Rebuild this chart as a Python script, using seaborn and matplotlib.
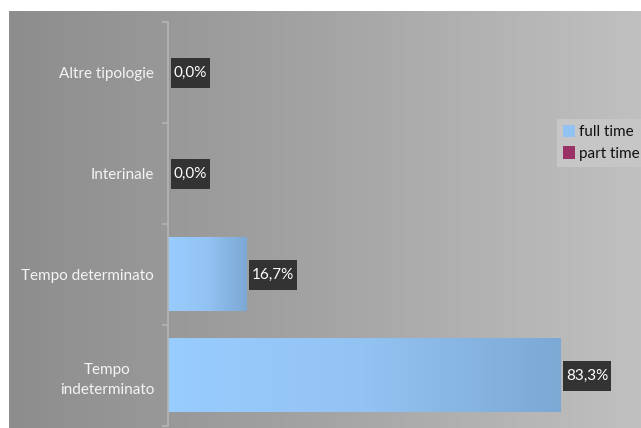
import numpy as np
import pandas as pd
import matplotlib
matplotlib.use("Agg")
import matplotlib.pyplot as plt
from matplotlib.path import Path
from matplotlib.colors import LinearSegmentedColormap
from matplotlib.patches import Patch
import seaborn as sns

# --- data -------------------------------------------------------------
categorie = ["Altre tipologie", "Interinale", "Tempo determinato", "Tempo\nindeterminato"]
full_time = [0.0, 0.0, 16.7, 83.3]
part_time = [0.0, 0.0, 0.0, 0.0]
serie = ["full time", "part time"]

df = pd.DataFrame({"categoria": categorie, "full time": full_time, "part time": part_time})
long = df.melt(id_vars="categoria", var_name="serie", value_name="valore")

sns.set_theme(style="white")
plt.rcParams["font.family"] = ["Lato", "DejaVu Sans"]
FS = 11

W, H, DPI = 641, 428, 100
fig = plt.figure(figsize=(W / DPI, H / DPI), dpi=DPI, facecolor="white")

# grey gradient chart area
bg = fig.add_axes([9 / W, 0, 1 - 9 / W, 1 - 11 / H], zorder=0)
grad = np.linspace(0, 1, 256).reshape(1, -1)
bg_cmap = LinearSegmentedColormap.from_list("bg", ["#8d8d8d", "#a4a4a4", "#c0c0c0"])
bg.imshow(grad, aspect="auto", cmap=bg_cmap, extent=[0, 1, 0, 1])
bg.set_axis_off()

ax = fig.add_axes([168 / W, 2 / H, (639 - 168) / W, (426 - 22) / H], zorder=1)
ax.set_facecolor("none")

sns.barplot(data=long, y="categoria", x="valore", hue="serie", order=categorie,
            hue_order=serie, dodge=False, width=0.73, orient="h",
            palette=["#99ccff", "#993366"], ax=ax, legend=False, saturation=1,
            linewidth=0, edgecolor="none")

# gradient fill for the full-time bars
bar_cmap = LinearSegmentedColormap.from_list("bar", ["#99ccff", "#93c3f3", "#7ca8d4"])
for bar in ax.containers[0]:
    w = bar.get_width()
    if w <= 0:
        continue
    x0, y0 = bar.get_x(), bar.get_y()
    h = bar.get_height()
    bar.set_facecolor("none")
    ax.imshow(grad, aspect="auto", cmap=bar_cmap,
              extent=[x0, x0 + w, y0 + h, y0], zorder=2)
ax.set_xlim(0, 100)
ax.set_ylim(len(categorie) - 0.5, -0.5)
ax.set_aspect("auto")

# axes styling
for s in ["top", "right", "bottom"]:
    ax.spines[s].set_visible(False)
ax.spines["left"].set_color("#b4b4b4")
ax.spines["left"].set_linewidth(1.2)
ax.set_xticks([])
ax.set_xlabel("")
ax.set_ylabel("")
ax.set_yticks(range(len(categorie)))
ax.set_yticklabels(categorie, color="#f4f4f4", fontsize=FS, ha="right",
                   multialignment="center", linespacing=1.55)
ax.set_yticks(np.arange(-0.5, len(categorie)), minor=True)
ax.tick_params(axis="y", which="major", length=0, pad=10)
ax.tick_params(axis="y", which="minor", length=4, width=1.2, color="#b4b4b4", left=True)


def label_box(x0, y0, width, height, mutation_size):
    padx, pady = 3.0, 8.0
    x0, x1 = x0 - padx, x0 + width + padx
    y0, y1 = y0 - pady, y0 + height + pady
    return Path([(x0, y0), (x1, y0), (x1, y1), (x0, y1), (x0, y0)], closed=True)


for i, v in enumerate(full_time):
    testo = f"{v:.1f}%".replace(".", ",")
    ax.annotate(testo, xy=(v, i), xytext=(4.0, 0), textcoords="offset points",
                ha="left", va="center", color="white", fontsize=FS, zorder=5,
                bbox=dict(boxstyle=label_box, facecolor="#333333", edgecolor="none"))

handles = [Patch(facecolor="#92c2f2", edgecolor="none"),
           Patch(facecolor="#993366", edgecolor="none")]
leg = fig.legend(handles, serie, loc="upper left", bbox_to_anchor=(557 / W, 1 - 119 / H),
                 frameon=True, fancybox=False, fontsize=FS, labelcolor="#111111",
                 handlelength=0.75, handleheight=0.85, handletextpad=0.3,
                 borderpad=0.4, labelspacing=0.45, borderaxespad=0)
leg.get_frame().set_facecolor("#c6c6c6")
leg.get_frame().set_edgecolor("none")
leg.get_frame().set_alpha(1)

fig.savefig("out.png", dpi=DPI, facecolor="white")
